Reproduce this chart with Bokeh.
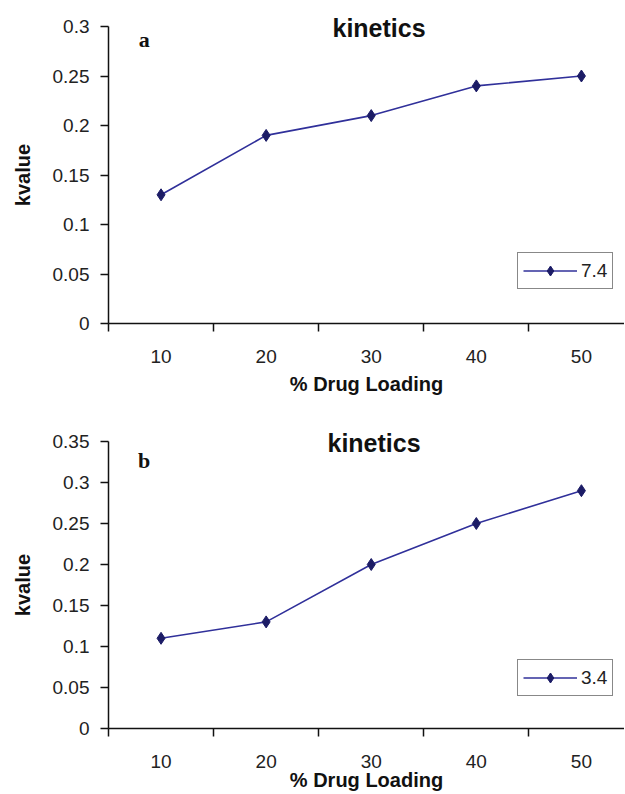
from bokeh.plotting import figure
from bokeh.layouts import column
from bokeh.models import Range1d, FixedTicker, CustomJSTickFormatter, Label, Legend, LegendItem
from bokeh.embed import file_html
from bokeh.resources import INLINE

# ---- data ----
loading = [10, 20, 30, 40, 50]
k_a = [0.13, 0.19, 0.21, 0.24, 0.25]   # pH 7.4
k_b = [0.11, 0.13, 0.20, 0.25, 0.29]   # pH 3.4
yticks_a = [0, 0.05, 0.1, 0.15, 0.2, 0.25, 0.3]
yticks_b = [0, 0.05, 0.1, 0.15, 0.2, 0.25, 0.3, 0.35]
series_a = "7.4"
series_b = "3.4"
title_text = "kinetics"
x_title = "% Drug Loading"
y_title = "kvalue"

LINE = "#30309a"
MARK = "#1c1c66"
SANS = "Liberation Sans"

boundaries = [v - 5 for v in loading] + [loading[-1] + 5]
fmt = CustomJSTickFormatter(code="return String(parseFloat(tick.toFixed(2)));")


def make_panel(yvals, yticks, series, letter, height, top, bottom, letter_y,
               title_offset, title_standoff, legend_y, xlab_standoff):
    p = figure(width=624, height=height, output_backend="svg", toolbar_location=None,
               x_range=Range1d(5, 54.1), y_range=Range1d(yticks[0], yticks[-1]),
               min_border_left=108, min_border_right=0, min_border_top=top,
               min_border_bottom=bottom, title=title_text)
    p.outline_line_color = None
    p.xgrid.visible = False
    p.ygrid.visible = False
    p.background_fill_color = "white"

    t = p.title
    t.align = "left"
    t.offset = title_offset
    t.standoff = title_standoff
    t.text_font = SANS
    t.text_font_style = "bold"
    t.text_font_size = "25px"
    t.text_color = "#111111"

    xa = p.xaxis[0]
    xa.ticker = FixedTicker(ticks=loading, minor_ticks=boundaries)
    xa.major_tick_in = 0
    xa.major_tick_out = 0
    xa.minor_tick_in = 0
    xa.minor_tick_out = 8
    xa.minor_tick_line_color = "#111111"
    xa.minor_tick_line_width = 1.5
    xa.axis_line_color = "#111111"
    xa.axis_line_width = 1.5
    xa.major_label_text_font = SANS
    xa.major_label_text_font_size = "19px"
    xa.major_label_text_color = "#222222"
    xa.major_label_standoff = 18
    xa.axis_label = x_title
    xa.axis_label_text_font = SANS
    xa.axis_label_text_font_style = "bold"
    xa.axis_label_text_font_size = "20px"
    xa.axis_label_text_color = "#111111"
    xa.axis_label_standoff = xlab_standoff

    ya = p.yaxis[0]
    ya.ticker = FixedTicker(ticks=yticks, minor_ticks=[])
    ya.formatter = fmt
    ya.major_tick_in = 0
    ya.major_tick_out = 8
    ya.major_tick_line_color = "#111111"
    ya.major_tick_line_width = 1.5
    ya.axis_line_color = "#111111"
    ya.axis_line_width = 1.5
    ya.major_label_text_font = SANS
    ya.major_label_text_font_size = "19px"
    ya.major_label_text_color = "#222222"
    ya.major_label_standoff = 11
    ya.axis_label = y_title
    ya.axis_label_text_font = SANS
    ya.axis_label_text_font_style = "bold"
    ya.axis_label_text_font_size = "20px"
    ya.axis_label_text_color = "#111111"
    ya.axis_label_standoff = 16

    ln = p.line(loading, yvals, line_color=LINE, line_width=1.6)
    sc = p.scatter(loading, yvals, marker="diamond", size=12,
                   fill_color=MARK, line_color=MARK)

    legend = Legend(items=[LegendItem(label=series, renderers=[ln, sc])],
                    location=(409, legend_y))
    legend.border_line_color = "#111111"
    legend.border_line_width = 1.5
    legend.background_fill_color = "white"
    legend.background_fill_alpha = 1.0
    legend.label_text_font = SANS
    legend.label_text_font_size = "19px"
    legend.label_text_color = "#222222"
    legend.glyph_width = 54
    legend.glyph_height = 25
    legend.label_height = 25
    legend.label_standoff = 4
    legend.padding = 5
    legend.margin = 0
    legend.spacing = 0
    p.add_layout(legend, "center")

    p.add_layout(Label(x=8.4, y=letter_y, text=letter, text_font="Liberation Serif",
                       text_font_style="bold", text_font_size="22px",
                       text_align="center", text_baseline="middle", text_color="#111111"))
    return p


pa = make_panel(k_a, yticks_a, series_a, "a", height=400, top=26, bottom=77,
                letter_y=0.287, title_offset=224, title_standoff=-30,
                legend_y=34, xlab_standoff=7)
pb = make_panel(k_b, yticks_b, series_b, "b", height=393, top=41, bottom=62,
                letter_y=0.327, title_offset=219, title_standoff=-30,
                legend_y=32, xlab_standoff=-2)

layout = column(pa, pb, spacing=0)
open("out.html", "w").write(file_html(layout, INLINE))
